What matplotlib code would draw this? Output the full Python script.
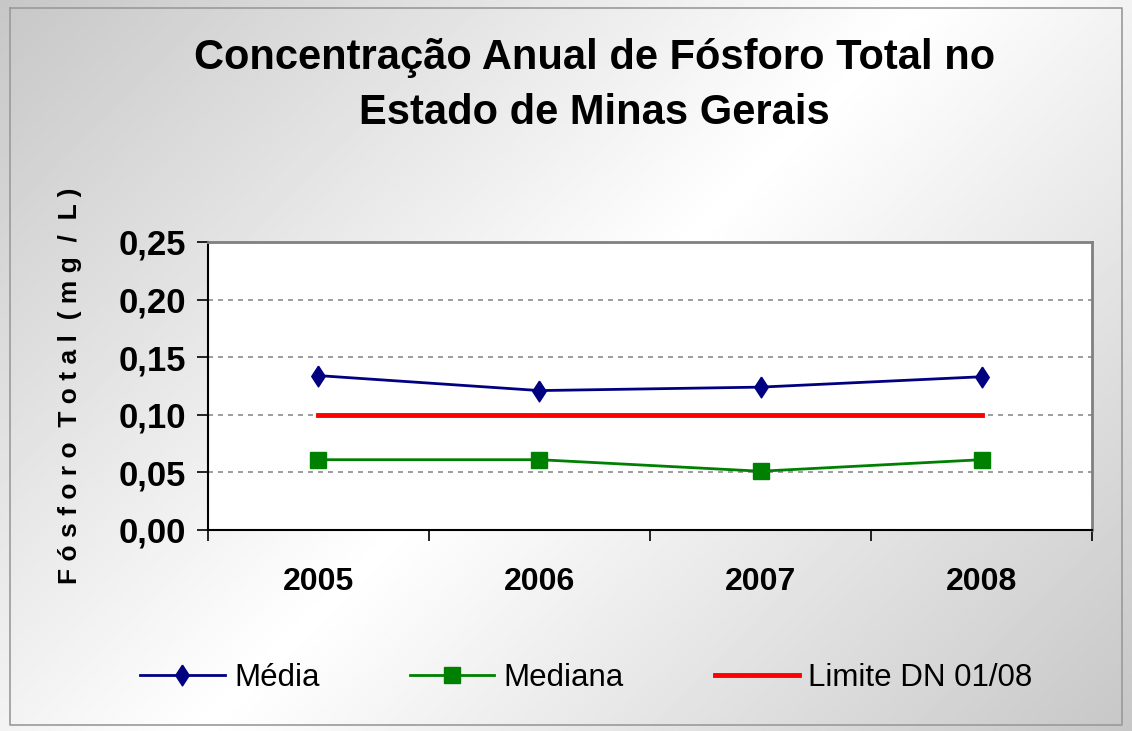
import numpy as np
import matplotlib.pyplot as plt
from matplotlib.lines import Line2D

anos = ['2005', '2006', '2007', '2008']
media = [0.134, 0.121, 0.124, 0.133]
mediana = [0.061, 0.061, 0.051, 0.061]
limite = [0.10, 0.10, 0.10, 0.10]
yticks = [0.00, 0.05, 0.10, 0.15, 0.20, 0.25]

plt.rcParams['font.family'] = ['Liberation Sans', 'DejaVu Sans']

# losango um pouco mais alto que largo
losango = [(0, 1), (0.65, 0), (0, -1), (-0.65, 0), (0, 1)]

fig = plt.figure(figsize=(11.32, 7.31), dpi=100)

# fundo em degradê cinza
bg = fig.add_axes([0, 0, 1, 1], zorder=-10)
yy, xx = np.mgrid[0:1:300j, 0:1:460j]
u = (xx * 1.55 + yy) / 2.55
grad = 1 - 0.22 * np.abs(u - 0.5) * 2
bg.imshow(grad, cmap='gray', vmin=0, vmax=1, extent=[0, 1, 0, 1],
          aspect='auto', origin='upper')
bg.plot([0.009, 0.991, 0.991, 0.009, 0.009], [0.989, 0.989, 0.008, 0.008, 0.989],
        color='#9a9a9a', lw=1.2)
bg.set_xlim(0, 1)
bg.set_ylim(0, 1)
bg.axis('off')

ax = fig.add_axes([0.1837, 0.275, 0.781, 0.394])
ax.set_facecolor('white')
x = np.arange(len(anos))

ax.plot(x, media, color='#000080', lw=2, marker=losango, markersize=15, label='Média')
ax.plot(x, mediana, color='#008000', lw=2, marker='s', markersize=12, label='Mediana')
ax.plot(x, limite, color='#ff0000', lw=3.5, label='Limite DN 01/08')

ax.set_xlim(-0.5, 3.5)
ax.set_ylim(0, 0.25)
ax.set_yticks(yticks)
ax.set_yticklabels([f'{v:.2f}'.replace('.', ',') for v in yticks],
                   fontsize=25, fontweight='bold')
ax.set_xticks(x)
ax.set_xticklabels(anos, fontsize=23, fontweight='bold')
ax.set_xticks(np.arange(-0.5, 4, 1), minor=True)
ax.tick_params(axis='x', which='major', length=0, pad=27)
ax.tick_params(axis='x', which='minor', length=8, direction='out', width=1.2)
ax.tick_params(axis='y', length=8, direction='out', width=1.2, pad=8)

for v in yticks[1:-1]:
    ax.axhline(v, color='#8c8c8c', ls=(0, (3, 3)), lw=1.2, zorder=0)

ax.spines['top'].set_color('#808080')
ax.spines['right'].set_color('#808080')
ax.spines['top'].set_linewidth(2)
ax.spines['right'].set_linewidth(2)
ax.spines['left'].set_linewidth(1.5)
ax.spines['bottom'].set_linewidth(1.5)

ax.set_ylabel('F ó s f o r o  T o t a l  ( m g  /  L )', fontsize=19,
              fontweight='bold', labelpad=26)

fig.text(0.525, 0.883, 'Concentração Anual de Fósforo Total no\nEstado de Minas Gerais',
         ha='center', va='center', fontsize=30, fontweight='bold', linespacing=1.5)

handles = [
    Line2D([], [], color='#000080', lw=2, marker=losango, markersize=15),
    Line2D([], [], color='#008000', lw=2, marker='s', markersize=12),
    Line2D([], [], color='#ff0000', lw=3.5),
]
fig.legend(handles, ['Média', 'Mediana', 'Limite DN 01/08'], loc='center',
           bbox_to_anchor=(0.518, 0.073), ncol=3, frameon=False, fontsize=22.5,
           handlelength=2.7, handletextpad=0.3, columnspacing=2.9)

fig.savefig('out.png', dpi=100)
